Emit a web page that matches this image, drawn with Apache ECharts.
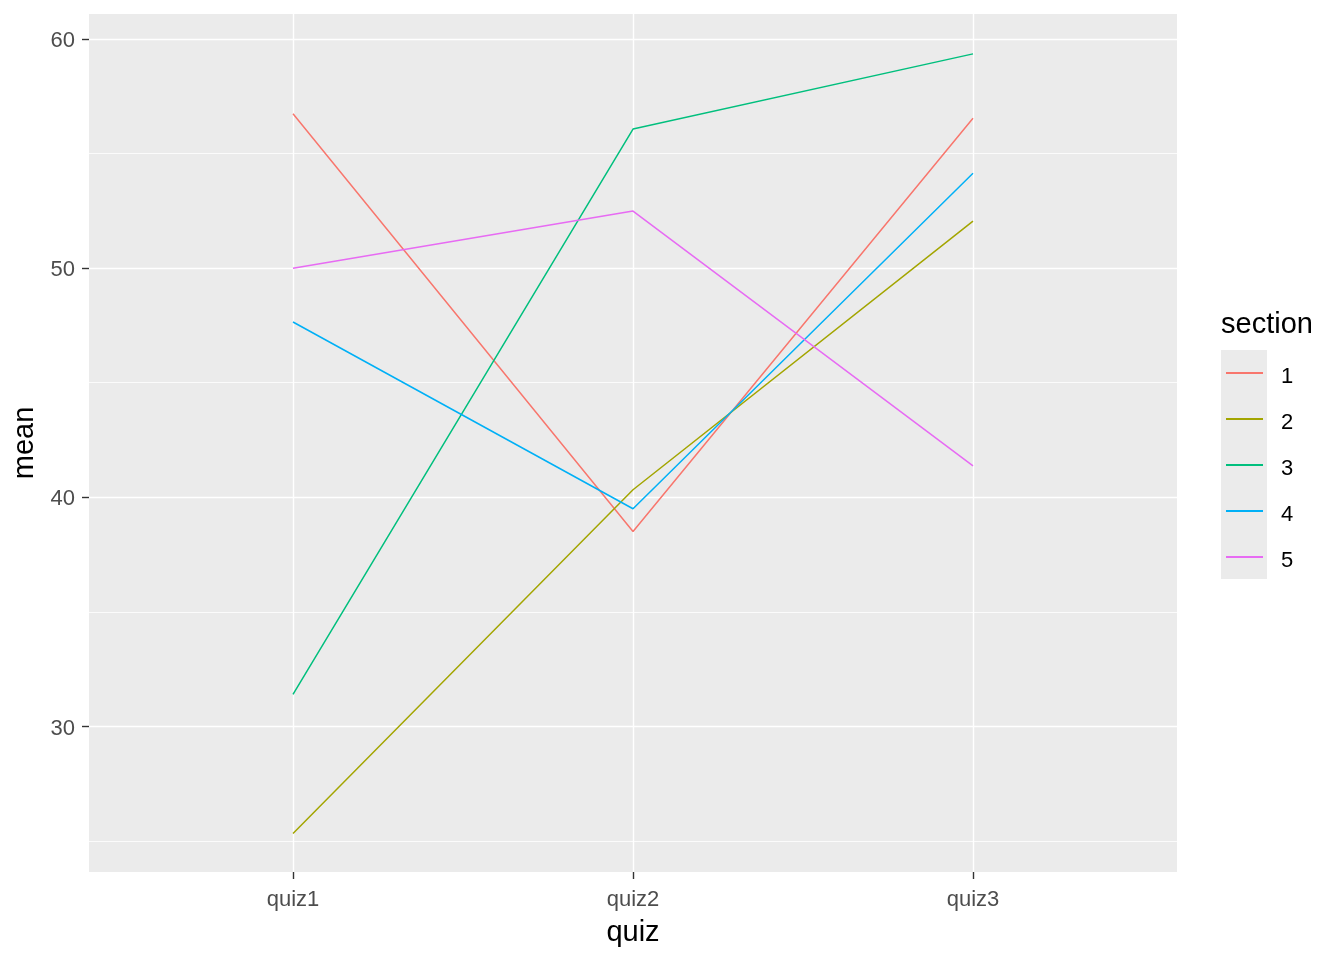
<!DOCTYPE html>
<html>
<head>
<meta charset="utf-8">
<script src="https://cdn.jsdelivr.net/npm/echarts@6/dist/echarts.min.js"></script>
<style>
html,body{margin:0;padding:0;background:#fff;}
#chart{width:1344px;height:960px;}
</style>
</head>
<body>
<div id="chart"></div>
<script>
// Data
const categories = ['quiz1', 'quiz2', 'quiz3'];
const sections = ['1', '2', '3', '4', '5'];
const section1 = [56.74, 38.51, 56.54];
const section2 = [25.33, 40.33, 52.05];
const section3 = [31.40, 56.07, 59.35];
const section4 = [47.65, 39.50, 54.14];
const section5 = [50.00, 52.49, 41.37];
const yTicks = [30, 40, 50, 60];
const yMinorTicks = [25, 35, 45, 55];

const seriesValues = [section1, section2, section3, section4, section5];
const colors = ['#F8766D', '#A3A500', '#00BF7D', '#00B0F6', '#E76BF3'];
const font = "'Liberation Sans', Arial, sans-serif";
const catPositions = categories.map((c, i) => i + 1);

const chart = echarts.init(document.getElementById('chart'), null, {renderer: 'canvas'});

const series = sections.map((name, s) => ({
  name: name,
  type: 'line',
  xAxisIndex: 0,
  yAxisIndex: 0,
  data: seriesValues[s].map((v, i) => [catPositions[i], v]),
  showSymbol: false,
  symbol: 'none',
  lineStyle: {width: 1.5, color: colors[s]},
  itemStyle: {color: colors[s]},
  animation: false
}));

chart.setOption({
  animation: false,
  backgroundColor: '#ffffff',
  textStyle: {fontFamily: font},
  grid: {left: 89, top: 14, right: 167, bottom: 88, containLabel: false,
         show: true, backgroundColor: '#EBEBEB', borderWidth: 0},
  title: {
    text: 'section', left: 1221, top: 310, padding: 0,
    textStyle: {fontSize: 29, fontWeight: 'normal', color: '#000', fontFamily: font}
  },
  legend: {
    orient: 'vertical', left: 1226, top: 358, padding: 0,
    itemWidth: 37, itemHeight: 2, itemGap: 16,
    icon: 'rect',
    data: sections,
    formatter: name => '{t|' + name + '}',
    textStyle: {
      fontSize: 22, color: '#000', fontFamily: font, padding: [0, 0, 0, 13],
      rich: {t: {fontSize: 22, lineHeight: 22, color: '#000', fontFamily: font, padding: [8, 0, 0, 0]}}
    }
  },
  graphic: [{
    type: 'rect', z: -1, silent: true,
    shape: {x: 1221, y: 350, width: 46, height: 229},
    style: {fill: '#EBEBEB'}
  }],
  xAxis: [{
    type: 'value', min: 0.4, max: 3.6,
    name: 'quiz', nameLocation: 'middle', nameGap: 46,
    nameTextStyle: {fontSize: 29, color: '#000', fontFamily: font},
    axisLine: {show: false},
    axisTick: {show: true, length: 7, customValues: catPositions, lineStyle: {color: '#333333', width: 1.4}},
    axisLabel: {customValues: catPositions, margin: 17, fontSize: 22, color: '#4D4D4D', fontFamily: font,
                formatter: v => categories[Math.round(v) - 1]},
    splitLine: {show: true, lineStyle: {color: '#ffffff', width: 1.4}}
  }],
  yAxis: [{
    type: 'value', min: 23.65, max: 61.09,
    name: 'mean', nameLocation: 'middle', nameGap: 42, nameRotate: 90,
    nameTextStyle: {fontSize: 29, color: '#000', fontFamily: font},
    axisLine: {show: false},
    axisTick: {show: true, length: 7, customValues: yTicks, lineStyle: {color: '#333333', width: 1.4}},
    axisLabel: {customValues: yTicks, margin: 14, fontSize: 22, color: '#4D4D4D', fontFamily: font,
                formatter: v => '{v|' + v + '}',
                rich: {v: {fontSize: 22, color: '#4D4D4D', fontFamily: font, padding: [4, 0, 0, 0]}}},
    splitLine: {show: true, lineStyle: {color: '#ffffff', width: 1.4}}
  }, {
    type: 'value', min: 23.65, max: 61.09, position: 'left',
    axisLine: {show: false},
    axisTick: {show: false, customValues: yMinorTicks},
    axisLabel: {show: false, customValues: yMinorTicks},
    splitLine: {show: true, lineStyle: {color: '#ffffff', width: 0.8}}
  }],
  series: series
});
</script>
</body>
</html>
